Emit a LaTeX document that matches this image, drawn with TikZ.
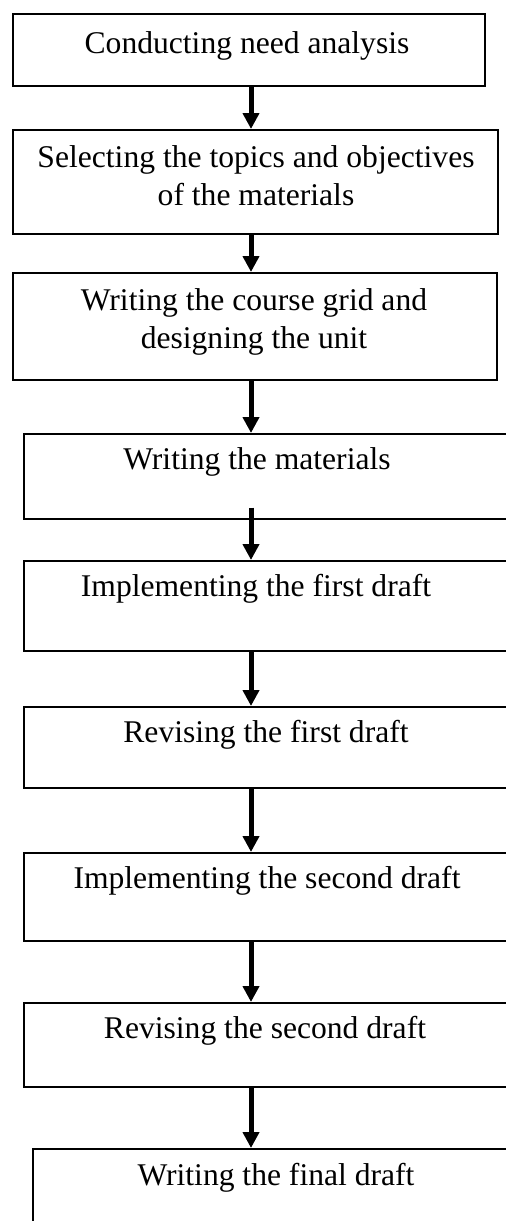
\documentclass[tikz,border=0pt]{standalone}
\usepackage{fontspec}
\setmainfont{Liberation Serif}
\usetikzlibrary{arrows.meta}

\begin{document}
\begin{tikzpicture}[
    x=0.5pt, y=-0.5pt,
    stepbox/.style={draw, line width=0.8pt, anchor=north west, inner sep=0},
    steptext/.style={inner sep=0, anchor=base, align=center, font=\fontsize{15.8}{19}\selectfont},
    arr/.style={draw, line width=2.5pt, -{Triangle[width=8pt, length=8pt]}}
]
    \useasboundingbox (0,0) rectangle (506,1221);
    \clip (0,0) rectangle (506,1221);
    \coordinate (axis) at (251,0);

    \node[stepbox, minimum width=236pt, minimum height=36pt] (need) at (12,13) {};
    \node[stepbox, minimum width=242.5pt, minimum height=52pt] (topics) at (12,129) {};
    \node[stepbox, minimum width=242pt, minimum height=53.5pt] (grid) at (12,272) {};
    \node[stepbox, minimum width=265pt, minimum height=42.5pt] (write) at (23,433) {};
    \node[stepbox, minimum width=265pt, minimum height=45pt] (impl1) at (23,560) {};
    \node[stepbox, minimum width=265pt, minimum height=40.5pt] (rev1) at (23,706) {};
    \node[stepbox, minimum width=265pt, minimum height=44pt] (impl2) at (23,852) {};
    \node[stepbox, minimum width=265pt, minimum height=42pt] (rev2) at (23,1002) {};
    \node[stepbox, minimum width=260pt, minimum height=50pt] (final) at (32,1148) {};

    % two-line texts sit on the baseline of their last line
    \node[steptext] (need_txt) at (247,53) {Conducting need analysis};
    \node[steptext] (topics_txt) at (256,205) {Selecting the topics and objectives\\of the materials};
    \node[steptext] (grid_txt) at (254,348) {Writing the course grid and\\designing the unit};
    \node[steptext] (write_txt) at (257,469) {Writing the materials};
    \node[steptext] (impl1_txt) at (256,596) {Implementing the first draft};
    \node[steptext] (rev1_txt) at (266,742) {Revising the first draft};
    \node[steptext] (impl2_txt) at (267,888) {Implementing the second draft};
    \node[steptext] (rev2_txt) at (265,1038) {Revising the second draft};
    \node[steptext] (final_txt) at (276,1185) {Writing the final draft};

    \draw[arr] (need.south -| axis) -- (topics.north -| axis);
    \draw[arr] (topics.south -| axis) -- (grid.north -| axis);
    \draw[arr] (grid.south -| axis) -- (write.north -| axis);
    \draw[arr] (write.south -| axis) ++(0,-12) -- (impl1.north -| axis);
    \draw[arr] (impl1.south -| axis) -- (rev1.north -| axis);
    \draw[arr] (rev1.south -| axis) -- (impl2.north -| axis);
    \draw[arr] (impl2.south -| axis) -- (rev2.north -| axis);
    \draw[arr] (rev2.south -| axis) -- (final.north -| axis);
\end{tikzpicture}
\end{document}
